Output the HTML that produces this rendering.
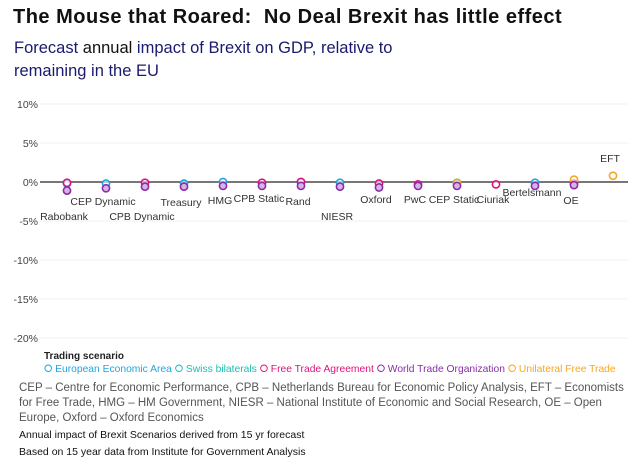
<!DOCTYPE html>
<html><head><meta charset="utf-8"><style>
body{margin:0;width:640px;height:467px;background:#fff;font-family:"Liberation Sans",sans-serif;overflow:hidden;position:relative}
.t{position:absolute;white-space:nowrap}
</style></head><body>
<div class="t" style="left:13px;top:6px;font-size:20px;font-weight:bold;color:#111;letter-spacing:0.5px">The Mouse that Roared:&nbsp; No Deal Brexit has little effect</div>
<div class="t" style="left:14px;top:37px;font-size:16.5px;color:#1a1a6e;line-height:23px">Forecast <span style="color:#111">annual</span> impact of Brexit on GDP, relative to<br>remaining in the EU</div>
<svg id="chart" width="640" height="467" style="position:absolute;left:0;top:0" font-family="Liberation Sans, sans-serif"></svg>
<div class="t" style="left:44px;top:351px;font-size:10px;font-weight:bold;color:#222">Trading scenario</div>
<div class="t" style="left:44px;top:364px;font-size:10.3px">
<span style="color:#1ea7e0">⭘ European Economic Area</span>
<span style="color:#19bfb0">⭘ Swiss bilaterals</span>
<span style="color:#e0127a">⭘ Free Trade Agreement</span>
<span style="color:#8a2ea8">⭘ World Trade Organization</span>
<span style="color:#f5a623">⭘ Unilateral Free Trade</span></div>
<div class="t" style="left:19px;top:381px;font-size:11.5px;color:#555;line-height:15px;white-space:normal;width:615px">CEP – Centre for Economic Performance, CPB – Netherlands Bureau for Economic Policy Analysis, EFT – Economists for Free Trade, HMG – HM Government, NIESR – National Institute of Economic and Social Research, OE – Open Europe, Oxford – Oxford Economics</div>
<div class="t" style="left:19px;top:429px;font-size:10.5px;color:#111">Annual impact of Brexit Scenarios derived from 15 yr forecast</div>
<div class="t" style="left:19px;top:446px;font-size:10.5px;color:#111">Based on 15 year data from Institute for Government Analysis</div>
<script>
const categories=["Rabobank","CEP Dynamic","CPB Dynamic","Treasury","HMG","CPB Static","Rand","NIESR","Oxford","PwC","CEP Static","Ciuriak","Bertelsmann","OE","EFT"];
const eea=[-0.2,-0.2,null,-0.2,0,null,0,-0.1,null,null,-0.1,null,-0.1,null,null];
const swiss=[null,null,null,null,null,null,null,null,null,null,-0.2,null,null,null,null];
const fta=[-0.1,null,-0.1,null,null,-0.1,0,null,-0.2,-0.3,null,-0.3,null,-0.2,null];
const wto=[-1.1,-0.8,-0.6,-0.6,-0.5,-0.5,-0.5,-0.6,-0.7,-0.5,-0.5,null,-0.5,-0.4,null];
const uft=[null,null,null,null,null,null,null,null,null,null,-0.1,null,null,0.3,0.8];
const yTicks=[10,5,0,-5,-10,-15,-20];
const labelDy=[38,23,38,24,22,20,23,38,21,21,21,21,14,22,-20];
const NS="http://www.w3.org/2000/svg";
const svg=document.getElementById('chart');
const y=v=>182-v*7.8;
const x=i=>67+i*39;
function mk(t,a){const e=document.createElementNS(NS,t);for(const k in a)e.setAttribute(k,a[k]);svg.appendChild(e);return e;}
yTicks.forEach(v=>{
 const g=mk('line',{x1:40,x2:628,y1:y(v),y2:y(v),stroke:v===0?'#777':'#f2f2f2','stroke-width':v===0?2:1});
 
 
 const t=mk('text',{x:38,y:y(v)+4,'text-anchor':'end','font-size':10.5,fill:'#444'});
 t.textContent=v+'%';
 
 
});
const series=[[eea,'#1ea7e0'],[swiss,'#19bfb0'],[fta,'#e0127a'],[uft,'#f5a623'],[wto,'#8a2ea8']];
series.forEach(([arr,c])=>arr.forEach((v,i)=>{
 if(v===null)return;
 const p=mk('circle',{cx:x(i),cy:y(v),r:3.6,fill:c==='#8a2ea8'?'#d6b4e6':'#fff','fill-opacity':c==='#8a2ea8'?1:0.6,stroke:c,'stroke-width':1.6});
 
 
}));
categories.forEach((c,i)=>{
 const t=mk('text',{x:x(i)-3,y:182+labelDy[i],'text-anchor':'middle','font-size':10.5,fill:'#333'});
 t.textContent=c;
 
 
});
</script>
</body></html>
